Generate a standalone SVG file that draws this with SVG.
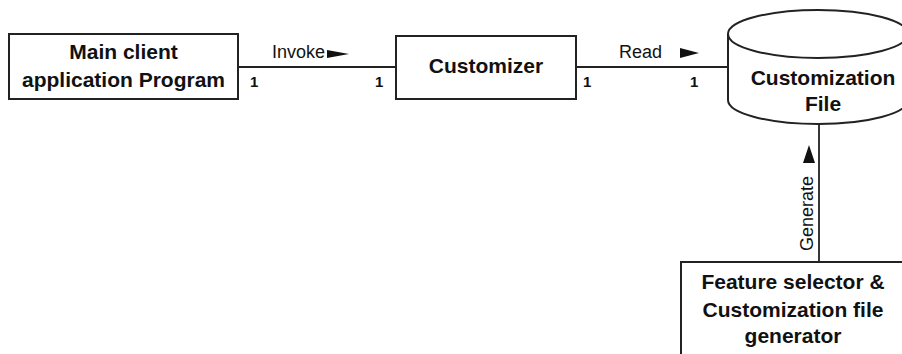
<svg xmlns="http://www.w3.org/2000/svg" width="902" height="354" viewBox="0 0 902 354">
<style>
.box{fill:#fff;stroke:#222;stroke-width:2}
.ln{fill:none;stroke:#222;stroke-width:1.8}
.t{font-family:"Liberation Sans",Arial,sans-serif;font-weight:bold;font-size:21px;fill:#111;text-anchor:middle}
.lb{font-family:"Liberation Sans",Arial,sans-serif;font-size:18px;fill:#111}
.m{font-family:"Liberation Sans",Arial,sans-serif;font-weight:bold;font-size:15px;fill:#111}
.ar{fill:#111}
</style>
<rect width="902" height="354" fill="#fff"/>
<g id="connectors">
  <line class="ln" x1="238" y1="67" x2="396" y2="67"/>
  <text class="lb" x="272" y="58">Invoke</text>
  <polygon class="ar" points="327,50 349,54 327,58"/>
  <text class="m" x="250" y="87">1</text>
  <text class="m" x="375" y="87">1</text>
  <line class="ln" x1="576" y1="67" x2="728" y2="67"/>
  <text class="lb" x="619" y="58">Read</text>
  <polygon class="ar" points="680,48 699,53 680,58"/>
  <text class="m" x="583" y="87">1</text>
  <text class="m" x="690" y="87">1</text>
  <line class="ln" x1="819" y1="124" x2="819" y2="262"/>
  <polygon class="ar" points="809,145 815,163 803,163"/>
  <text class="lb" transform="translate(813,213.5) rotate(-90)" text-anchor="middle">Generate</text>
</g>
<g id="main-client">
  <rect class="box" x="9" y="34" width="229" height="65"/>
  <text class="t" x="123.5" y="59">Main client</text>
  <text class="t" x="123.5" y="87">application Program</text>
</g>
<g id="customizer">
  <rect class="box" x="396" y="36" width="180" height="63"/>
  <text class="t" x="486" y="73">Customizer</text>
</g>
<g id="customization-file">
  <path class="box" d="M728,34 L728,100 A90,24 0 0 0 908,100 L908,34 A90,24 0 0 0 728,34 Z"/>
  <path class="ln" d="M728,34 A90,24 0 0 0 908,34" style="stroke-width:2"/>
  <text class="t" x="823" y="85">Customization</text>
  <text class="t" x="823" y="111">File</text>
</g>
<g id="feature-selector">
  <rect class="box" x="681" y="262" width="226" height="100"/>
  <text class="t" x="793" y="289">Feature selector &amp;</text>
  <text class="t" x="793" y="317">Customization file</text>
  <text class="t" x="793" y="343">generator</text>
</g>
</svg>
